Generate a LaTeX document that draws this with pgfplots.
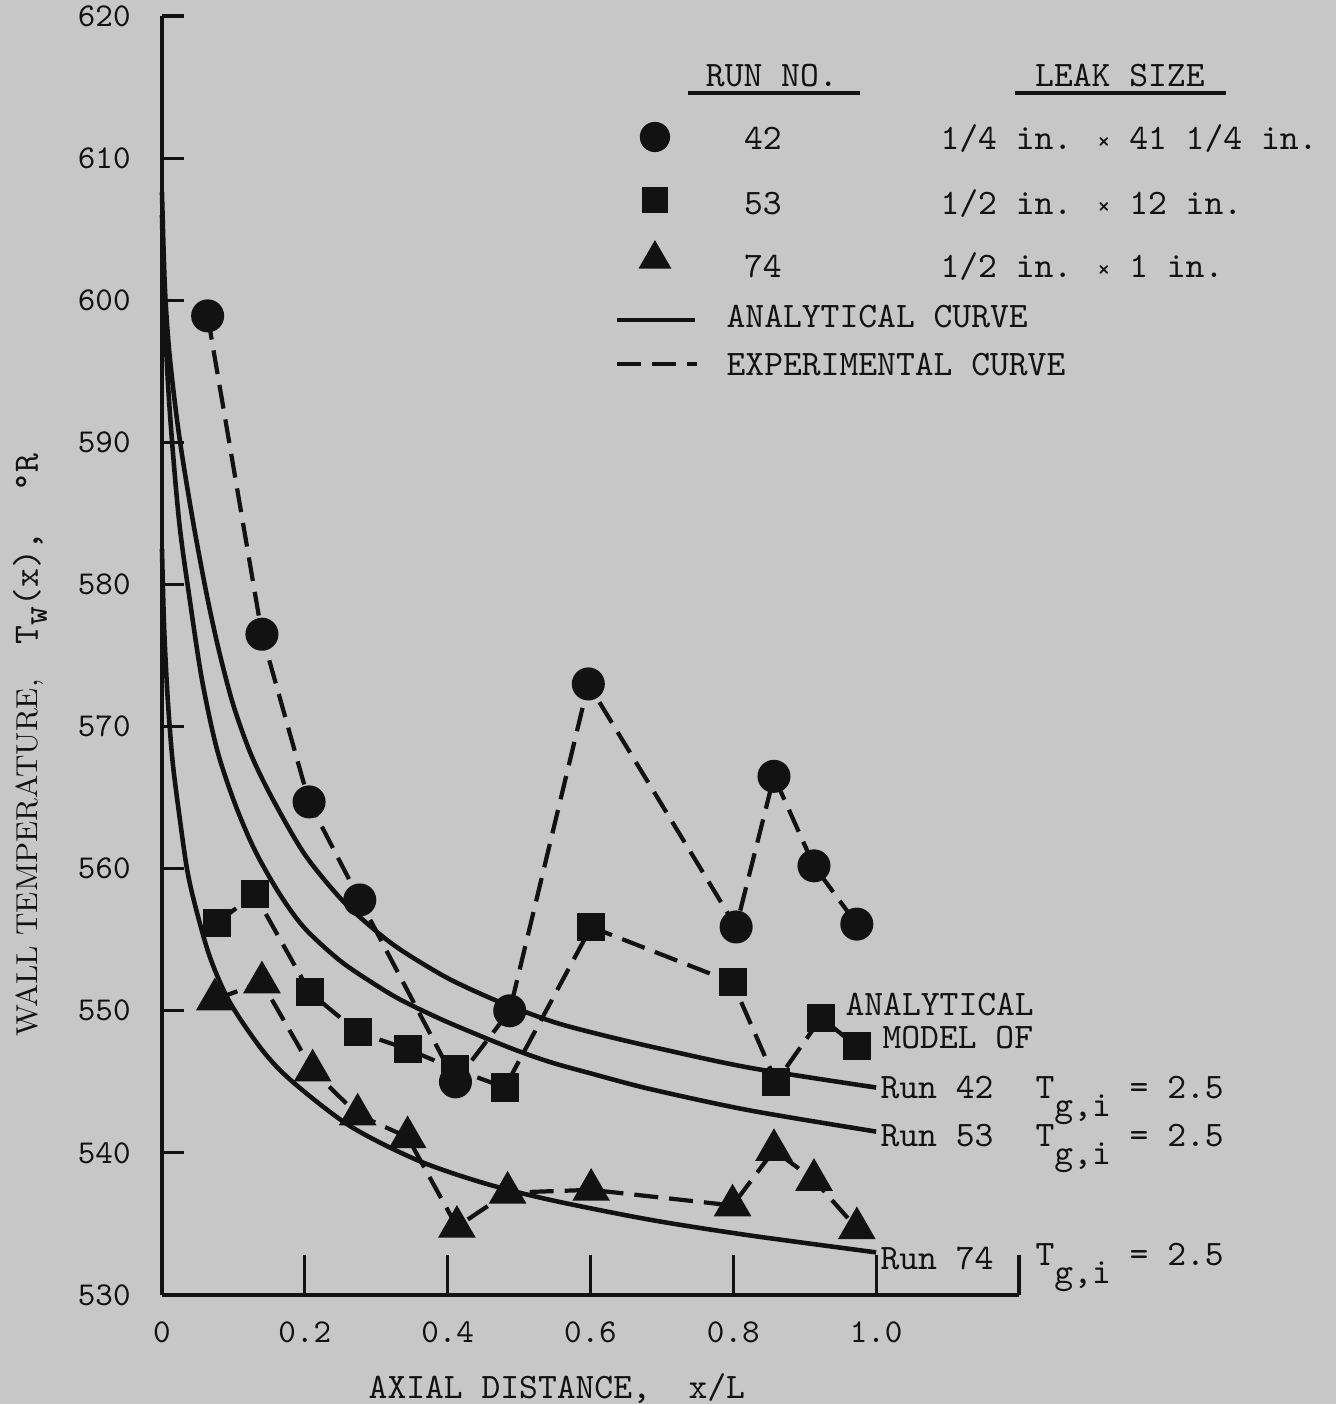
\documentclass[border=0pt]{standalone}
\usepackage{pgfplots}
\pgfplotsset{compat=1.18}
\usetikzlibrary{backgrounds}
\definecolor{bg}{RGB}{199,199,199}
\definecolor{ink}{RGB}{18,18,18}
\newcommand{\mono}{\ttfamily\fontsize{10.2}{12}\selectfont}
\newcommand{\tickf}{\ttfamily\fontsize{9.5}{11}\selectfont}
\newcommand{\Tgi}{T\raisebox{-1.8mm}{g,i} = 2.5}
\newcommand{\x}{{\fontsize{7}{8}\selectfont ×}}
\begin{document}
\begin{tikzpicture}
\begin{axis}[
  scale only axis, width=8.57cm, height=12.79cm,
  xmin=0, xmax=1.2, ymin=530, ymax=620,
  axis x line=bottom, axis y line=left,
  axis line style={ink, line width=0.9pt, -},
  tick align=inside,
  tick style={ink, line width=0.9pt},
  xtick style={/pgfplots/major tick length=4mm},
  ytick style={/pgfplots/major tick length=2.2mm},
  xtick={0,0.2,0.4,0.6,0.8,1.0,1.2},
  xticklabels={0,0.2,0.4,0.6,0.8,1.0,{}},
  ytick={530,540,550,560,570,580,590,600,610,620},
  /pgf/number format/assume math mode=true,
  ticklabel style={font=\tickf, text=ink},
  xticklabel style={yshift=-1.4mm},
  yticklabel style={xshift=-1.9mm},
  clip=false,
]
\coordinate (BL) at (axis cs:-0.2268,522.33);
\coordinate (TR) at (axis cs:1.6437,621.13);

% analytical curves
\addplot[ink, line width=1.3pt, smooth, tension=0.5] coordinates {
(0,607.6) (0.004,601) (0.01,596.5) (0.02,592) (0.03,588.5) (0.045,584) (0.063,579.2) (0.08,575.3) (0.1,571.5) (0.125,568) (0.155,564.9) (0.2,561) (0.252,557.8) (0.3,555.6) (0.337,554.2) (0.4,552.3) (0.469,550.7) (0.543,549.3) (0.6,548.5) (0.683,547.5) (0.822,546.0) (1.0,544.6)};
\addplot[ink, line width=1.3pt, smooth, tension=0.5] coordinates {
(0,606) (0.003,600) (0.008,594.5) (0.015,589.5) (0.025,584) (0.039,578.9) (0.056,573.3) (0.077,568.4) (0.102,564.6) (0.13,561.3) (0.165,558.2) (0.2,555.8) (0.25,553.5) (0.3,551.8) (0.337,550.7) (0.4,549.2) (0.487,547.4) (0.543,546.4) (0.6,545.6) (0.683,544.5) (0.822,543.0) (1.0,541.5)};
\addplot[ink, line width=1.3pt, smooth, tension=0.5] coordinates {
(0,582.5) (0.003,577) (0.008,572) (0.015,567.5) (0.025,563.5) (0.035,560) (0.046,557.5) (0.067,553.8) (0.095,550.6) (0.141,547.2) (0.183,545.0) (0.263,541.9) (0.357,539.5) (0.449,537.9) (0.543,536.7) (0.683,535.3) (0.822,534.2) (1.0,533.0)};

% experimental
\addplot[ink, line width=1.2pt, dash pattern=on 2.4mm off 1.1mm, mark=*, mark size=4.1pt, mark options={solid, fill=ink}] coordinates {
(0.064,598.9) (0.140,576.5) (0.206,564.7) (0.277,557.8) (0.411,545.0) (0.487,550.0) (0.597,573.0) (0.804,555.9) (0.857,566.5) (0.913,560.2) (0.973,556.1)};
\addplot[ink, line width=1.2pt, dash pattern=on 2.4mm off 1.1mm, mark=square*, mark size=3.4pt, mark options={solid, fill=ink}] coordinates {
(0.077,556.2) (0.130,558.2) (0.207,551.3) (0.274,548.5) (0.344,547.3) (0.410,545.9) (0.480,544.6) (0.601,555.9) (0.799,552.0) (0.860,545.0) (0.923,549.5) (0.973,547.5)};
\addplot[ink, line width=1.2pt, dash pattern=on 2.4mm off 1.1mm, mark=triangle*, mark size=5pt, mark options={solid, fill=ink}] coordinates {
(0.074,550.8) (0.140,552.0) (0.211,545.8) (0.274,542.7) (0.344,541.1) (0.413,534.8) (0.484,537.2) (0.601,537.4) (0.799,536.3) (0.857,540.2) (0.913,538.1) (0.973,534.7)};

% legend glyphs
\addplot[only marks, ink, mark=*, mark size=4.1pt, mark options={fill=ink}] coordinates {(0.6903,611.49)};
\addplot[only marks, ink, mark=square*, mark size=3.4pt, mark options={fill=ink}] coordinates {(0.6903,607.06)};
\addplot[only marks, ink, mark=triangle*, mark size=5pt, mark options={fill=ink}] coordinates {(0.6903,602.9)};
\addplot[ink, line width=1.3pt] coordinates {(0.6371,598.61) (0.7463,598.61)};
\addplot[ink, line width=1.3pt, dash pattern=on 2.4mm off 1.1mm] coordinates {(0.6371,595.52) (0.7491,595.52)};
\addplot[ink, line width=1.1pt] coordinates {(0.7365,614.59) (0.9773,614.59)};
\addplot[ink, line width=1.1pt] coordinates {(1.1943,614.59) (1.4898,614.59)};

% legend text
\node[anchor=base, font=\mono, text=ink, inner sep=0] at (axis cs:0.854,615.01) {RUN NO.};
\node[anchor=base, font=\mono, text=ink, inner sep=0] at (axis cs:1.3414,615.01) {LEAK SIZE};
\node[anchor=base, font=\mono, text=ink, inner sep=0] at (axis cs:0.8415,610.58) {42};
\node[anchor=base, font=\mono, text=ink, inner sep=0] at (axis cs:0.8415,606.00) {53};
\node[anchor=base, font=\mono, text=ink, inner sep=0] at (axis cs:0.8415,601.57) {74};
\node[anchor=base west, font=\mono, text=ink, inner sep=0] at (axis cs:1.0893,610.58) {1/4 in. \x{} 41 1/4 in.};
\node[anchor=base west, font=\mono, text=ink, inner sep=0] at (axis cs:1.0893,606.00) {1/2 in. \x{} 12 in.};
\node[anchor=base west, font=\mono, text=ink, inner sep=0] at (axis cs:1.0893,601.57) {1/2 in. \x{} 1 in.};
\node[anchor=base west, font=\mono, text=ink, inner sep=0] at (axis cs:0.7897,598.05) {ANALYTICAL CURVE};
\node[anchor=base west, font=\mono, text=ink, inner sep=0] at (axis cs:0.7897,594.74) {EXPERIMENTAL CURVE};

% curve annotations
\node[anchor=base west, font=\mono, text=ink, inner sep=0] at (axis cs:0.9563,549.65) {ANALYTICAL};
\node[anchor=base west, font=\mono, text=ink, inner sep=0] at (axis cs:1.0081,547.35) {MODEL OF};
\node[anchor=base west, font=\mono, text=ink, inner sep=0] at (axis cs:1.0053,543.86) {Run 42};
\node[anchor=base west, font=\mono, text=ink, inner sep=0] at (axis cs:1.0053,540.42) {Run 53};
\node[anchor=base west, font=\mono, text=ink, inner sep=0] at (axis cs:1.0053,531.83) {Run 74};
\node[anchor=base west, font=\mono, text=ink, inner sep=0] at (axis cs:1.2224,543.86) {\Tgi};
\node[anchor=base west, font=\mono, text=ink, inner sep=0] at (axis cs:1.2224,540.42) {\Tgi};
\node[anchor=base west, font=\mono, text=ink, inner sep=0] at (axis cs:1.2224,532.10) {\Tgi};

% axis labels
\node[anchor=base, font=\mono, text=ink, inner sep=0] at (axis cs:0.553,522.75) {AXIAL DISTANCE,\ \ x/L};
\node[rotate=90, anchor=center, text=ink, inner sep=0] at (axis cs:-0.1848,568.7)
  {{\fontsize{8.6}{10}\selectfont WALL TEMPERATURE,}\hspace{3.5mm}{\mono T\raisebox{-0.9mm}{w}(x),\hspace{4mm}°R}};
\end{axis}
\begin{pgfonlayer}{background}
\fill[bg] (BL) rectangle (TR);
\end{pgfonlayer}
\pgfresetboundingbox
\useasboundingbox (BL) rectangle (TR);
\end{tikzpicture}
\end{document}
